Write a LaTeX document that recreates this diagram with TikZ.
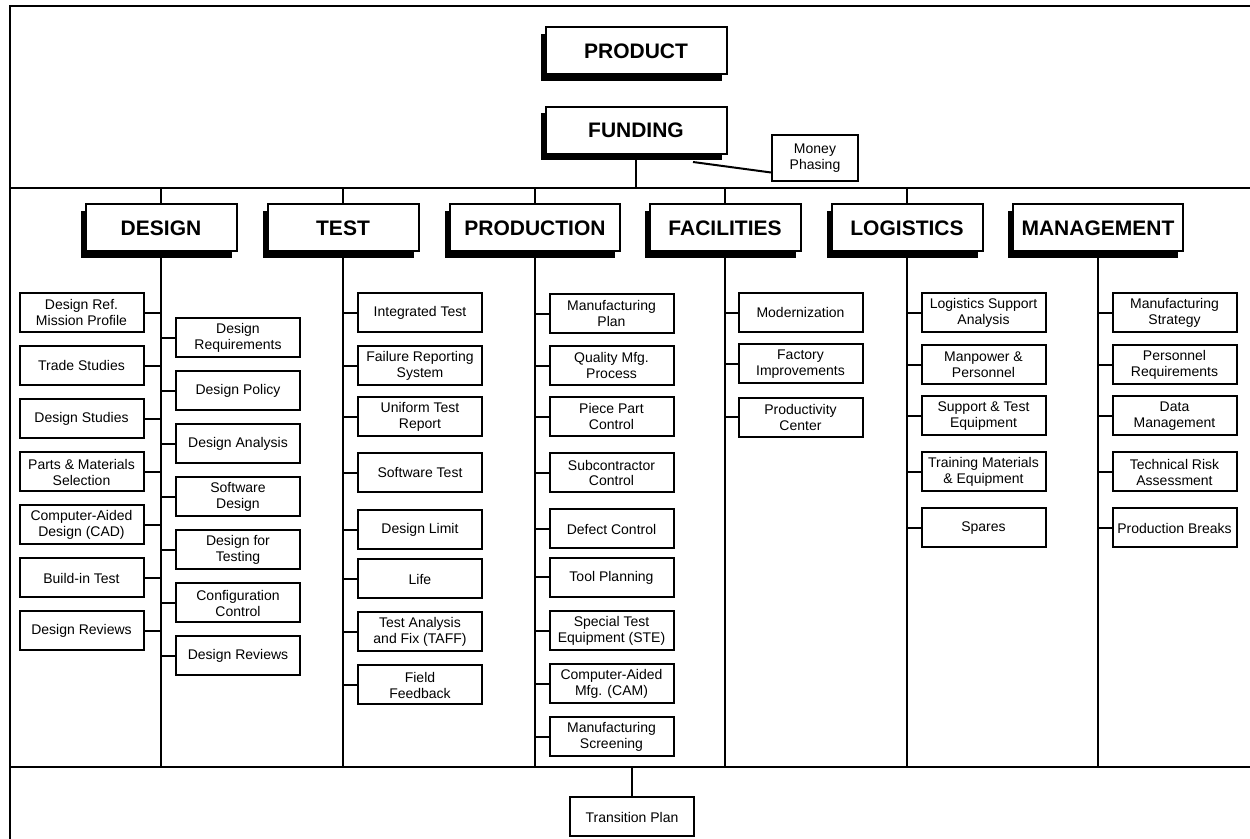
\documentclass[tikz,border=0pt]{standalone}
\usepackage{fontspec}
\setmainfont{Liberation Sans}
\usetikzlibrary{shadows}
\tikzset{
  item/.style={rectangle, draw, line width=1pt, fill=white, align=center, minimum width=62pt, minimum height=19.5pt, inner sep=1pt, font=\fontsize{7}{8}\selectfont},
  head/.style={rectangle, draw, line width=1pt, fill=white, minimum width=75.5pt, minimum height=23.5pt, font=\fontsize{10.5}{12}\selectfont\bfseries, drop shadow={shadow xshift=-2.5pt, shadow yshift=-3.25pt, fill=black, opacity=1}},
}
\begin{document}
\begin{tikzpicture}[x=0.5pt, y=-0.5pt, line width=1pt, node distance=26.5pt]
\useasboundingbox (0,0) rectangle (1250,839);
\draw (10,839) -- (10,6) -- (1250,6);
\draw (10,188) -- (1250,188);
\draw (10,767) -- (1250,767);
\coordinate (busa) at (10,188);
\coordinate (busb) at (10,767);

\node[head, minimum width=90.5pt] (product) at (636,51) {PRODUCT};
\node[head, minimum width=90.5pt] (fund) at (636,130.5) {FUNDING};
\node[item, minimum width=43pt, minimum height=23pt] (money) at (815,158.5) {Money\\Phasing};
\draw ([xshift=28.5pt,yshift=-3.5pt]fund.south) -- ([yshift=-7pt]money.west);
\draw (fund) -- (fund |- busa);

\node[head] (design) at (161,228) {DESIGN};
\node[head] (test) at (343,228) {TEST};
\node[head, minimum width=85pt] (prod) at (535,228) {PRODUCTION};
\node[head] (fac) at (725,228) {FACILITIES};
\node[head] (log) at (907,228) {LOGISTICS};
\node[head, minimum width=85pt] (mgmt) at (1098,228) {MANAGEMENT};
\draw (design) -- (design |- busa);
\draw (test) -- (test |- busa);
\draw (prod) -- (prod |- busa);
\draw (fac) -- (fac |- busa);
\draw (log) -- (log |- busa);
\draw (design) -- (design |- busb);
\draw (test) -- (test |- busb);
\draw (prod) -- (prod |- busb);
\draw (fac) -- (fac |- busb);
\draw (log) -- (log |- busb);
\draw (mgmt) -- (mgmt |- busb);

% design
\node[item] (d1) at (81.5,313) {Design Ref.\\Mission Profile};
\node[item] (d2) [below of=d1] {Trade Studies};
\node[item] (d3) [below of=d2] {Design Studies};
\node[item] (d4) [below of=d3] {Parts \& Materials\\Selection};
\node[item] (d5) [below of=d4] {Computer-Aided\\Design (CAD)};
\node[item] (d6) [below of=d5] {Build-in Test};
\node[item] (d7) [below of=d6] {Design Reviews};
\node[item] (d8) at (238,338) {Design\\Requirements};
\node[item] (d9) [below of=d8] {Design Policy};
\node[item] (d10) [below of=d9] {Design Analysis};
\node[item] (d11) [below of=d10] {Software\\Design};
\node[item] (d12) [below of=d11] {Design for\\Testing};
\node[item] (d13) [below of=d12] {Configuration\\Control};
\node[item] (d14) [below of=d13] {Design Reviews};
\draw (d1) -- (d1 -| design);
\draw (d2) -- (d2 -| design);
\draw (d3) -- (d3 -| design);
\draw (d4) -- (d4 -| design);
\draw (d5) -- (d5 -| design);
\draw (d6) -- (d6 -| design);
\draw (d7) -- (d7 -| design);
\draw (d8) -- (d8 -| design);
\draw (d9) -- (d9 -| design);
\draw (d10) -- (d10 -| design);
\draw (d11) -- (d11 -| design);
\draw (d12) -- (d12 -| design);
\draw (d13) -- (d13 -| design);
\draw (d14) -- (d14 -| design);

% test
\node[item] (t1) at (420,313) {Integrated Test};
\node[item] (t2) [below of=t1] {Failure Reporting\\System};
\node[item] (t3) [node distance=25.5pt, below of=t2] {Uniform Test\\Report};
\node[item] (t4) [node distance=28pt, below of=t3] {Software Test};
\node[item] (t5) [node distance=28.5pt, below of=t4] {Design Limit};
\node[item] (t6) [node distance=24.5pt, below of=t5] {Life};
\node[item] (t7) [below of=t6] {Test Analysis\\and Fix (TAFF)};
\node[item] (t8) [below of=t7] {Field\\Feedback};
\draw (t1) -- (t1 -| test);
\draw (t2) -- (t2 -| test);
\draw (t3) -- (t3 -| test);
\draw (t4) -- (t4 -| test);
\draw (t5) -- (t5 -| test);
\draw (t6) -- (t6 -| test);
\draw (t7) -- (t7 -| test);
\draw (t8) -- (t8 -| test);

% production
\node[item] (p1) at (611.5,314) {Manufacturing\\Plan};
\node[item] (p2) [node distance=26pt, below of=p1] {Quality Mfg.\\Process};
\node[item] (p3) [node distance=25.5pt, below of=p2] {Piece Part\\Control};
\node[item] (p4) [node distance=28pt, below of=p3] {Subcontractor\\Control};
\node[item] (p5) [node distance=28pt, below of=p4] {Defect Control};
\node[item] (p6) [node distance=24.25pt, below of=p5] {Tool Planning};
\node[item] (p7) [node distance=26.75pt, below of=p6] {Special Test\\Equipment (STE)};
\node[item] (p8) [below of=p7] {Computer-Aided\\Mfg. (CAM)};
\node[item] (p9) [below of=p8] {Manufacturing\\Screening};
\draw (p1) -- (p1 -| prod);
\draw (p2) -- (p2 -| prod);
\draw (p3) -- (p3 -| prod);
\draw (p4) -- (p4 -| prod);
\draw (p5) -- (p5 -| prod);
\draw (p6) -- (p6 -| prod);
\draw (p7) -- (p7 -| prod);
\draw (p8) -- (p8 -| prod);
\draw (p9) -- (p9 -| prod);

% facilities
\node[item] (f1) at (800.5,313) {Modernization};
\node[item] (f2) [node distance=25.5pt, below of=f1] {Factory\\Improvements};
\node[item] (f3) [node distance=26.75pt, below of=f2] {Productivity\\Center};
\draw (f1) -- (f1 -| fac);
\draw (f2) -- (f2 -| fac);
\draw (f3) -- (f3 -| fac);

% logistics
\node[item] (l1) at (983.5,313) {Logistics Support\\Analysis};
\node[item] (l2) [node distance=26pt, below of=l1] {Manpower \&\\Personnel};
\node[item] (l3) [node distance=25.5pt, below of=l2] {Support \& Test\\Equipment};
\node[item] (l4) [node distance=28pt, below of=l3] {Training Materials\\\& Equipment};
\node[item] (l5) [node distance=28pt, below of=l4] {Spares};
\draw (l1) -- (l1 -| log);
\draw (l2) -- (l2 -| log);
\draw (l3) -- (l3 -| log);
\draw (l4) -- (l4 -| log);
\draw (l5) -- (l5 -| log);

% management
\node[item] (m1) at (1174.5,313) {Manufacturing\\Strategy};
\node[item] (m2) [node distance=26pt, below of=m1] {Personnel\\Requirements};
\node[item] (m3) [node distance=25.5pt, below of=m2] {Data\\Management};
\node[item] (m4) [node distance=28pt, below of=m3] {Technical Risk\\Assessment};
\node[item] (m5) [node distance=28pt, below of=m4] {Production Breaks};
\draw (m1) -- (m1 -| mgmt);
\draw (m2) -- (m2 -| mgmt);
\draw (m3) -- (m3 -| mgmt);
\draw (m4) -- (m4 -| mgmt);
\draw (m5) -- (m5 -| mgmt);

\node[item] (trans) at (632,817) {Transition Plan};
\draw (trans) -- (trans |- busb);
\end{tikzpicture}
\end{document}
